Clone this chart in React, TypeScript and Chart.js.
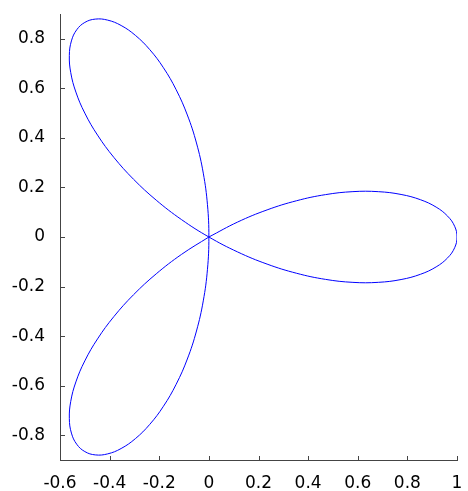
import React, { useEffect, useRef } from "react";
import { Chart, registerables } from "chart.js";

Chart.register(...registerables);

// Three-petal rose traced point by point (x, y), starting and ending at the centre:
// lower-left petal, upper-left petal, then the right petal.
const curveX = [
  0, -0.1101, -0.212, -0.3036, -0.383, -0.4488, -0.5, -0.536, -0.5567, -0.5624, -0.554, -0.5327,
  -0.5, -0.4578, -0.4082, -0.3536, -0.2962, -0.2386, -0.183, -0.1318, -0.0868, -0.05, -0.0226,
  -0.0057, 0,
  -0.0057, -0.0226, -0.05, -0.0868, -0.1318, -0.183, -0.2386, -0.2962, -0.3536, -0.4082, -0.4578,
  -0.5, -0.5327, -0.554, -0.5624, -0.5567, -0.536, -0.5, -0.4488, -0.383, -0.3036, -0.212,
  -0.1101, 0,
  0.1158, 0.2346, 0.3536, 0.4698, 0.5806, 0.683, 0.7746, 0.8529, 0.916, 0.9622, 0.9905, 1,
  0.9905, 0.9622, 0.916, 0.8529, 0.7746, 0.683, 0.5806, 0.4698, 0.3536, 0.2346, 0.1158, 0,
];
const curveY = [
  0, -0.0701, -0.1485, -0.233, -0.3214, -0.4113, -0.5, -0.5849, -0.6634, -0.733, -0.7913, -0.8362,
  -0.866, -0.8794, -0.8754, -0.8536, -0.8138, -0.7566, -0.683, -0.5943, -0.4924, -0.3794, -0.2578,
  -0.1304, 0,
  0.1304, 0.2578, 0.3794, 0.4924, 0.5943, 0.683, 0.7566, 0.8138, 0.8536, 0.8754, 0.8794,
  0.866, 0.8362, 0.7913, 0.733, 0.6634, 0.5849, 0.5, 0.4113, 0.3214, 0.233, 0.1485,
  0.0701, 0,
  -0.0603, -0.1094, -0.1464, -0.171, -0.1831, -0.183, -0.1717, -0.1504, -0.1206, -0.0842, -0.0433, 0,
  0.0433, 0.0842, 0.1206, 0.1504, 0.1717, 0.183, 0.1831, 0.171, 0.1464, 0.1094, 0.0603, 0,
];

const xTicks = [-0.6, -0.4, -0.2, 0, 0.2, 0.4, 0.6, 0.8, 1];
const yTicks = [-0.8, -0.6, -0.4, -0.2, 0, 0.2, 0.4, 0.6, 0.8];

const AXIS_COLOR = "#444444";
const FONT = { family: "DejaVu Sans", size: 17 };

const fmt = (v: number) => {
  const n = Math.round(v * 10) / 10;
  return n === 0 ? "0" : String(n);
};

const noEdgePadding = (s: any) => {
  s.paddingTop = 0;
  s.paddingBottom = 0;
  s.paddingLeft = 0;
  s.paddingRight = 0;
};

// Short tick marks pointing into the plot area
const innerTicks = {
  id: "innerTicks",
  afterDraw(chart: any) {
    const { ctx, chartArea, scales } = chart;
    ctx.save();
    ctx.strokeStyle = AXIS_COLOR;
    ctx.lineWidth = 1;
    ctx.beginPath();
    for (const v of xTicks) {
      const px = Math.round(scales.x.getPixelForValue(v)) + 0.5;
      ctx.moveTo(px, chartArea.bottom);
      ctx.lineTo(px, chartArea.bottom - 4);
    }
    for (const v of yTicks) {
      const py = Math.round(scales.y.getPixelForValue(v)) + 0.5;
      ctx.moveTo(chartArea.left, py);
      ctx.lineTo(chartArea.left + 5, py);
    }
    ctx.stroke();
    ctx.restore();
  },
};

export default function App() {
  const canvasRef = useRef<HTMLCanvasElement | null>(null);

  useEffect(() => {
    if (!canvasRef.current) return;
    const points = curveX.map((x, i) => ({ x, y: curveY[i] }));
    const chart = new Chart(canvasRef.current, {
      type: "scatter",
      data: {
        datasets: [
          {
            data: points,
            showLine: true,
            borderColor: "#0000ff",
            borderWidth: 1,
            pointRadius: 0,
            tension: 0.4,
            fill: false,
          },
        ],
      },
      options: {
        animation: false,
        responsive: false,
        maintainAspectRatio: false,
        layout: { padding: { top: 14, right: 11, left: 0, bottom: 0 } },
        plugins: { legend: { display: false }, tooltip: { enabled: false } },
        scales: {
          x: {
            type: "linear",
            min: -0.6,
            max: 1,
            afterFit: (s: any) => {
              s.height = 31;
              noEdgePadding(s);
            },
            afterBuildTicks: (s: any) => {
              s.ticks = xTicks.map((v) => ({ value: v }));
            },
            grid: { display: true, drawOnChartArea: false, drawTicks: false },
            border: { display: true, color: AXIS_COLOR, width: 1 },
            ticks: {
              padding: 13,
              color: "#000",
              font: FONT,
              maxRotation: 0,
              autoSkip: false,
              callback: (v: any) => fmt(Number(v)),
            },
          },
          y: {
            type: "linear",
            min: -0.9,
            max: 0.9,
            afterFit: (s: any) => {
              s.width = 60;
              noEdgePadding(s);
            },
            afterBuildTicks: (s: any) => {
              s.ticks = yTicks.map((v) => ({ value: v }));
            },
            grid: { display: true, drawOnChartArea: false, drawTicks: false },
            border: { display: true, color: AXIS_COLOR, width: 1 },
            ticks: {
              padding: 15,
              color: "#000",
              font: FONT,
              autoSkip: false,
              callback: (v: any) => fmt(Number(v)),
            },
          },
        },
      },
      plugins: [innerTicks],
    });
    return () => chart.destroy();
  }, []);

  return (
    <div style={{ position: "fixed", left: 0, top: 0, width: 468, height: 491, background: "#fff" }}>
      <canvas ref={canvasRef} width={468} height={491} style={{ display: "block" }} />
    </div>
  );
}
